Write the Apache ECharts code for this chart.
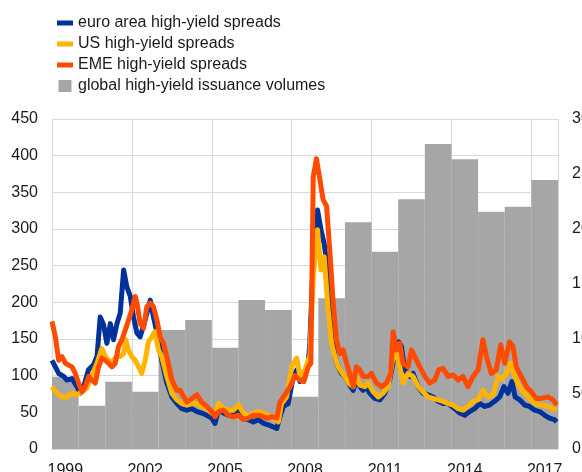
<!DOCTYPE html>
<html>
<head>
<meta charset="utf-8">
<title>High-yield spreads and issuance</title>
<script src="https://cdn.jsdelivr.net/npm/echarts@6/dist/echarts.min.js"></script>
<style>body{margin:0;background:#fff}</style>
</head>
<body>
<div id="chart" style="width:582px;height:472px;"></div>
<script>
// yearly categories for the issuance bars (right axis)
var years = ['1999','2000','2001','2002','2003','2004','2005','2006','2007','2008',
             '2009','2010','2011','2012','2013','2014','2015','2016','2017'];
var issuance = [657, 394, 612, 521, 1082, 1173, 921, 1354, 1264, 475,
                1370, 2061, 1793, 2270, 2773, 2633, 2157, 2202, 2445];

// spreads, [decimal year, basis points]
var euroSpread = [
  [1999.0,121],[1999.125,112],[1999.25,103],[1999.44,99],[1999.56,94],[1999.75,96],[1999.94,85],
  [2000.06,76],[2000.19,85],[2000.37,108],[2000.56,115],[2000.69,126],[2000.81,180],[2000.94,169],
  [2001.06,144],[2001.19,171],[2001.31,149],[2001.44,171],[2001.56,185],[2001.69,244],[2001.81,221],
  [2001.94,208],[2002.06,180],[2002.19,158],[2002.31,153],[2002.5,176],[2002.69,203],[2002.81,180],
  [2003.0,149],[2003.12,121],[2003.31,90],[2003.5,71],[2003.69,62],[2003.87,55],[2004.06,53],
  [2004.25,55],[2004.44,51],[2004.62,49],[2004.81,46],[2005.0,42],[2005.12,35],[2005.25,53],
  [2005.44,49],[2005.62,46],[2005.81,46],[2006.0,53],[2006.19,42],[2006.37,40],[2006.56,37],
  [2006.75,40],[2006.94,35],[2007.12,33],[2007.31,30],[2007.44,28],[2007.56,44],[2007.69,58],
  [2007.87,62],[2008.06,99],[2008.19,108],[2008.31,92],[2008.5,103],[2008.62,117],[2008.68,144],
  [2008.81,258],[2008.97,326],[2009.1,299],[2009.22,280],[2009.35,244],[2009.5,167],[2009.62,126],
  [2009.75,112],[2009.87,103],[2010.0,99],[2010.12,90],[2010.31,80],[2010.43,94],[2010.56,85],
  [2010.68,80],[2010.81,85],[2010.93,76],[2011.12,69],[2011.31,67],[2011.5,76],[2011.68,94],
  [2011.87,130],[2012.02,146],[2012.12,140],[2012.25,108],[2012.43,99],[2012.56,103],[2012.75,85],
  [2012.93,76],[2013.12,74],[2013.31,71],[2013.5,65],[2013.68,62],[2013.87,62],[2014.12,55],
  [2014.31,49],[2014.5,46],[2014.68,51],[2014.87,55],[2015.06,62],[2015.25,58],[2015.43,60],
  [2015.62,65],[2015.81,71],[2015.97,85],[2016.12,76],[2016.27,92],[2016.39,71],[2016.56,67],
  [2016.75,60],[2016.93,58],[2017.12,53],[2017.31,51],[2017.5,46],[2017.68,42],[2017.87,40],
  [2017.95,37]
];
var usSpread = [
  [1999.0,85],[1999.19,76],[1999.37,71],[1999.56,71],[1999.75,76],[1999.94,74],[2000.12,78],
  [2000.31,83],[2000.5,101],[2000.69,117],[2000.87,137],[2001.0,126],[2001.12,121],[2001.25,119],
  [2001.44,126],[2001.56,126],[2001.69,130],[2001.77,149],[2001.87,135],[2002.0,126],[2002.12,121],
  [2002.25,112],[2002.37,103],[2002.5,121],[2002.62,146],[2002.75,153],[2002.87,160],[2003.0,135],
  [2003.12,126],[2003.31,99],[2003.5,76],[2003.69,67],[2003.87,62],[2004.06,60],[2004.25,62],
  [2004.44,62],[2004.62,58],[2004.81,55],[2005.0,49],[2005.12,46],[2005.25,62],[2005.44,55],
  [2005.62,53],[2005.81,53],[2006.0,60],[2006.19,49],[2006.37,44],[2006.56,49],[2006.75,51],
  [2006.94,49],[2007.12,46],[2007.31,42],[2007.5,37],[2007.62,62],[2007.81,71],[2008.0,112],
  [2008.19,124],[2008.31,99],[2008.5,108],[2008.62,121],[2008.68,126],[2008.81,235],[2008.97,299],
  [2009.1,244],[2009.22,262],[2009.37,190],[2009.5,144],[2009.62,126],[2009.75,112],[2009.87,105],
  [2010.0,99],[2010.12,90],[2010.31,85],[2010.43,99],[2010.56,87],[2010.75,85],[2010.87,90],
  [2011.06,78],[2011.25,71],[2011.43,76],[2011.62,85],[2011.81,126],[2011.93,130],[2012.06,112],
  [2012.18,90],[2012.37,103],[2012.56,99],[2012.75,85],[2012.93,78],[2013.12,71],[2013.31,69],
  [2013.5,67],[2013.68,65],[2013.87,62],[2014.06,60],[2014.25,55],[2014.43,53],[2014.62,58],
  [2014.81,65],[2015.0,67],[2015.18,80],[2015.37,71],[2015.56,74],[2015.75,99],[2015.9,96],
  [2016.06,103],[2016.22,117],[2016.37,99],[2016.56,85],[2016.75,76],[2016.93,69],[2017.12,62],
  [2017.37,60],[2017.62,58],[2017.81,55],[2017.95,53]
];
var emeSpread = [
  [1999.0,174],[1999.125,153],[1999.25,121],[1999.375,126],[1999.5,117],[1999.75,112],[1999.875,103],
  [2000.0,90],[2000.125,78],[2000.25,85],[2000.375,99],[2000.5,94],[2000.625,90],[2000.75,112],
  [2000.875,124],[2001.0,121],[2001.125,117],[2001.25,112],[2001.375,117],[2001.5,140],[2001.625,149],
  [2001.75,162],[2001.875,176],[2002.0,190],[2002.125,208],[2002.19,199],[2002.31,171],[2002.44,165],
  [2002.56,194],[2002.69,199],[2002.81,194],[2002.94,176],[2003.06,153],[2003.19,144],[2003.31,126],
  [2003.5,94],[2003.69,80],[2003.81,80],[2004.06,64],[2004.25,69],[2004.44,74],[2004.62,64],
  [2004.81,58],[2005.0,51],[2005.12,44],[2005.25,51],[2005.44,53],[2005.62,46],[2005.81,44],
  [2006.0,46],[2006.19,40],[2006.37,42],[2006.56,46],[2006.81,46],[2007.06,42],[2007.25,44],
  [2007.44,42],[2007.56,64],[2007.75,74],[2007.94,85],[2008.12,100],[2008.31,94],[2008.46,92],
  [2008.62,112],[2008.72,117],[2008.81,371],[2008.93,396],[2009.06,367],[2009.18,340],[2009.31,331],
  [2009.43,271],[2009.56,199],[2009.68,149],[2009.81,130],[2009.93,135],[2010.06,117],[2010.18,103],
  [2010.31,85],[2010.43,112],[2010.56,108],[2010.68,99],[2010.87,99],[2011.0,103],[2011.18,90],
  [2011.37,85],[2011.56,90],[2011.72,103],[2011.81,160],[2011.93,135],[2012.06,144],[2012.18,117],
  [2012.37,112],[2012.5,135],[2012.62,126],[2012.81,112],[2013.0,99],[2013.18,90],[2013.37,94],
  [2013.52,108],[2013.68,110],[2013.87,99],[2014.06,101],[2014.25,94],[2014.43,99],[2014.62,85],
  [2014.81,99],[2015.0,108],[2015.18,149],[2015.31,126],[2015.5,103],[2015.68,108],[2015.85,142],
  [2016.0,117],[2016.18,146],[2016.31,140],[2016.43,112],[2016.62,99],[2016.81,85],[2017.0,78],
  [2017.18,69],[2017.37,69],[2017.62,71],[2017.81,67],[2017.95,60]
];

var gridColor = '#d9d9d9';
var textColor = '#1a1a1a';
var font = 'Liberation Sans, Arial, sans-serif';
var lineIcon = 'path://M0,0H16V5H0Z';

var chart = echarts.init(document.getElementById('chart'));

chart.setOption({
    animation: false,
    textStyle: {fontFamily: font},
    legend: {
        orient: 'vertical',
        left: 52,
        top: 10,
        itemWidth: 16,
        itemHeight: 12,
        itemGap: 5,
        symbolKeepAspect: true,
        textStyle: {fontSize: 16, color: textColor, fontFamily: font},
        data: [
            {name: 'euro area high-yield spreads', icon: lineIcon},
            {name: 'US high-yield spreads', icon: lineIcon},
            {name: 'EME high-yield spreads', icon: lineIcon},
            {name: 'global high-yield issuance volumes', icon: 'path://M0,0H13V12H0Z'}
        ]
    },
    grid: {left: 52, right: 24, top: 119, bottom: 23, containLabel: false, outerBoundsMode: 'none'},
    xAxis: [
        {
            type: 'category',
            data: years,
            boundaryGap: true,
            axisLine: {show: true, lineStyle: {color: gridColor}},
            axisTick: {show: false},
            axisLabel: {interval: 2, fontSize: 16, color: textColor, margin: 14},
            splitLine: {show: true, interval: 2, lineStyle: {color: gridColor}}
        },
        {
            type: 'value',
            min: 1999,
            max: 2018,
            show: false
        }
    ],
    yAxis: [
        {
            type: 'value',
            min: 0,
            max: 450,
            interval: 50,
            axisLine: {show: true, lineStyle: {color: gridColor}},
            axisTick: {show: false},
            axisLabel: {fontSize: 16, color: textColor, margin: 14},
            splitLine: {show: true, lineStyle: {color: gridColor}}
        },
        {
            type: 'value',
            min: 0,
            max: 3000,
            interval: 500,
            position: 'right',
            axisLine: {show: true, lineStyle: {color: gridColor}},
            axisTick: {show: false},
            axisLabel: {fontSize: 16, color: textColor, margin: 14, formatter: function (v) { return String(v); }},
            splitLine: {show: false}
        }
    ],
    series: [
        {
            name: 'global high-yield issuance volumes',
            type: 'bar',
            xAxisIndex: 0,
            yAxisIndex: 1,
            barWidth: '100%',
            itemStyle: {color: '#a6a6a6'},
            data: issuance,
            z: 1
        },
        {
            name: 'euro area high-yield spreads',
            type: 'line',
            xAxisIndex: 1,
            yAxisIndex: 0,
            symbol: 'none',
            lineStyle: {color: '#003299', width: 5, join: 'round'},
            itemStyle: {color: '#003299'},
            data: euroSpread,
            z: 3
        },
        {
            name: 'US high-yield spreads',
            type: 'line',
            xAxisIndex: 1,
            yAxisIndex: 0,
            symbol: 'none',
            lineStyle: {color: '#ffb400', width: 5, join: 'round'},
            itemStyle: {color: '#ffb400'},
            data: usSpread,
            z: 4
        },
        {
            name: 'EME high-yield spreads',
            type: 'line',
            xAxisIndex: 1,
            yAxisIndex: 0,
            symbol: 'none',
            lineStyle: {color: '#ff4b00', width: 5, join: 'round'},
            itemStyle: {color: '#ff4b00'},
            data: emeSpread,
            z: 5
        }
    ]
});
</script>
</body>
</html>
